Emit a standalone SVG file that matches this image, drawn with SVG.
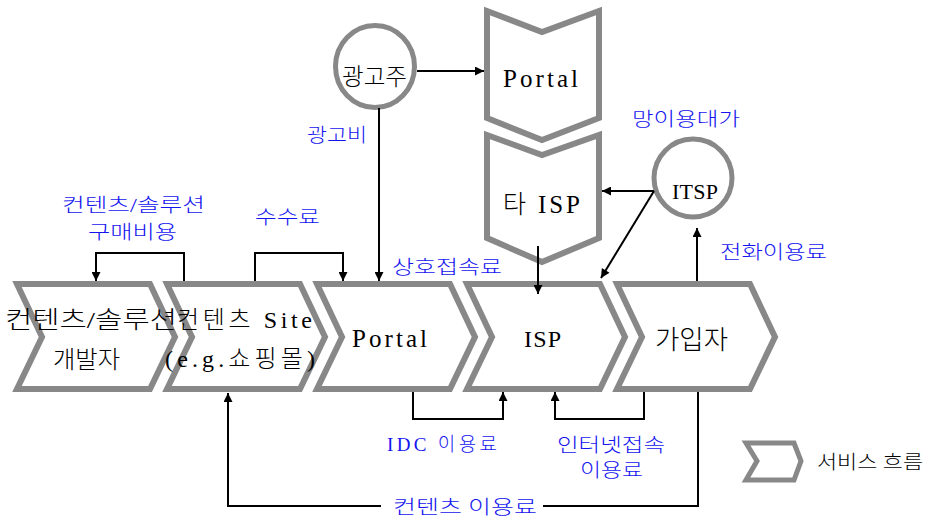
<svg xmlns="http://www.w3.org/2000/svg" width="930" height="519" viewBox="0 0 930 519">
<style>
.chev{fill:#fff;stroke:#888;stroke-width:6;stroke-linejoin:miter}
.circ{fill:#fff;stroke:#888;stroke-width:5}
.lbl{font-family:"Liberation Serif","Noto Sans CJK KR",serif;fill:#000;font-weight:300}
.blue{font-family:"Liberation Serif","Noto Sans CJK KR",serif;fill:#1414f0;font-size:19px;font-weight:300}
.lat{font-weight:normal}
.latin{font-family:"Liberation Serif",serif;fill:#000;font-weight:normal}
.ln{fill:none;stroke:#000;stroke-width:2}
</style>
<defs>
<marker id="ah" viewBox="0 0 10 10" refX="10" refY="5" markerWidth="11" markerHeight="9" orient="auto" markerUnits="userSpaceOnUse"><path d="M0,0 L10,5 L0,10 z" fill="#000"/></marker>
</defs>
<rect width="930" height="519" fill="#fff"/>

<g id="dev">
<polygon class="chev" points="17,284 150,284 175,337 150,389 17,389 42,337"/>
<text class="lbl" x="5" y="328" font-size="24" textLength="172" lengthAdjust="spacingAndGlyphs">컨텐츠<tspan class="lat">/</tspan>솔루션</text>
<text class="lbl" x="53" y="368" font-size="24" textLength="67" lengthAdjust="spacingAndGlyphs">개발자</text>
</g>
<g id="site">
<polygon class="chev" points="167,284 300,284 325,337 300,389 167,389 192,337"/>
<text class="lbl" x="177" y="328" font-size="24" textLength="135" lengthAdjust="spacing">컨텐츠 <tspan class="lat">Site</tspan></text>
<text class="lbl" x="165" y="367" font-size="24" textLength="150" lengthAdjust="spacing"><tspan class="lat">(e.g.</tspan>쇼핑몰<tspan class="lat">)</tspan></text>
</g>
<g id="portal">
<polygon class="chev" points="317,284 450,284 475,337 450,389 317,389 342,337"/>
<text class="latin" x="352" y="347" font-size="25" textLength="75" lengthAdjust="spacing">Portal</text>
</g>
<g id="isp">
<polygon class="chev" points="467,284 600,284 625,337 600,389 467,389 492,337"/>
<text class="latin" x="524" y="347" font-size="24" textLength="37" lengthAdjust="spacing">ISP</text>
</g>
<g id="subscriber">
<polygon class="chev" points="617,284 750,284 775,337 750,389 617,389 642,337"/>
<text class="lbl" x="655" y="349" font-size="26" textLength="73" lengthAdjust="spacingAndGlyphs">가입자</text>
</g>
<g id="portal-top">
<polygon class="chev" points="487,11 542,32 599,11 599,118 542,140 487,118"/>
<text class="latin" x="503" y="87" font-size="25" textLength="75" lengthAdjust="spacing">Portal</text>
</g>
<g id="other-isp">
<polygon class="chev" points="487,135 542,155 599,135 599,238 542,262 487,238"/>
<text class="lbl" x="503" y="213" font-size="25" textLength="77" lengthAdjust="spacing">타 <tspan class="lat">ISP</tspan></text>
</g>
<g id="advertiser">
<ellipse class="circ" cx="375" cy="66.5" rx="39.5" ry="41"/>
<text class="lbl" x="342" y="85" font-size="24" textLength="65" lengthAdjust="spacingAndGlyphs">광고주</text>
</g>
<g id="itsp">
<circle class="circ" cx="693" cy="178" r="39"/>
<text class="latin" x="672" y="199" font-size="22" textLength="46" lengthAdjust="spacing">ITSP</text>
</g>
<g id="legend">
<polygon class="chev" points="746,443 794,443 801,461 794,480 746,480 757,461" style="stroke-width:5"/>
<text class="lbl" x="817" y="469" font-size="19" textLength="106" lengthAdjust="spacingAndGlyphs">서비스 흐름</text>
</g>

<g id="connectors">
<path class="ln" d="M417,71 H484" marker-end="url(#ah)"/>
<path class="ln" d="M379,108 V281" marker-end="url(#ah)"/>
<path class="ln" d="M184,281 V253 H96 V281" marker-end="url(#ah)"/>
<path class="ln" d="M255,281 V253 H343 V281" marker-end="url(#ah)"/>
<path class="ln" d="M538,246 V294" marker-end="url(#ah)"/>
<path class="ln" d="M654,191 H602" marker-end="url(#ah)"/>
<path class="ln" d="M654,191 L601,278" marker-end="url(#ah)"/>
<path class="ln" d="M697,281 V228" marker-end="url(#ah)"/>
<path class="ln" d="M413,392 V419 H503 V392" marker-end="url(#ah)"/>
<path class="ln" d="M644,392 V419 H555 V392" marker-end="url(#ah)"/>
<path class="ln" d="M698,392 V506 H543"/>
<path class="ln" d="M381,506 H228 V393" marker-end="url(#ah)"/>
</g>

<g id="labels">
<text class="blue" x="307" y="142" textLength="60" lengthAdjust="spacingAndGlyphs">광고비</text>
<text class="blue" x="62" y="212" textLength="143" lengthAdjust="spacingAndGlyphs">컨텐츠<tspan class="lat">/</tspan>솔루션</text>
<text class="blue" x="88" y="239" textLength="89" lengthAdjust="spacingAndGlyphs">구매비용</text>
<text class="blue" x="255" y="224" textLength="65" lengthAdjust="spacingAndGlyphs">수수료</text>
<text class="blue" x="392" y="274" textLength="110" lengthAdjust="spacingAndGlyphs">상호접속료</text>
<text class="blue" x="632" y="126" textLength="108" lengthAdjust="spacingAndGlyphs">망이용대가</text>
<text class="blue" x="720" y="259" textLength="107" lengthAdjust="spacingAndGlyphs">전화이용료</text>
<text class="blue" x="387" y="451" textLength="110" lengthAdjust="spacing"><tspan class="lat">IDC</tspan> 이용료</text>
<text class="blue" x="557" y="452" textLength="108" lengthAdjust="spacingAndGlyphs">인터넷접속</text>
<text class="blue" x="580" y="477" textLength="63" lengthAdjust="spacingAndGlyphs">이용료</text>
<text class="blue" x="393" y="514" textLength="144" lengthAdjust="spacingAndGlyphs">컨텐츠 이용료</text>
</g>
</svg>
